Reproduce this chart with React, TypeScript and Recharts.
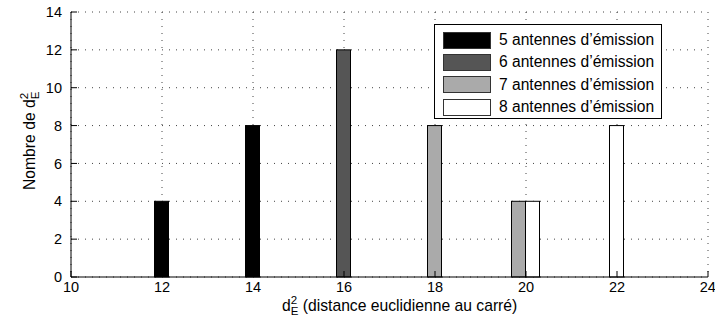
import { BarChart, Bar, XAxis, YAxis, CartesianGrid, Legend } from 'recharts';

// d_E^2 values on the x axis and the counts per number of transmit antennas
const distances = [12, 14, 16, 18, 20, 22];
const tx5 = [4, 8, null, null, null, null];
const tx6 = [null, null, 12, null, null, null];
const tx7 = [null, null, null, 8, 4, null];
const tx8 = [null, null, null, null, 4, 8];
const xTicks = [10, 12, 14, 16, 18, 20, 22, 24];
const yTicks = [0, 2, 4, 6, 8, 10, 12, 14];

const series = [
  { key: 'tx5', name: '5 antennes d’émission', color: '#000000' },
  { key: 'tx6', name: '6 antennes d’émission', color: '#555555' },
  { key: 'tx7', name: '7 antennes d’émission', color: '#aaaaaa' },
  { key: 'tx8', name: '8 antennes d’émission', color: '#ffffff' },
];

const data = distances.map((d, i) => ({
  d,
  tx5: tx5[i],
  tx6: tx6[i],
  tx7: tx7[i],
  tx8: tx8[i],
}));

const FONT = '"Liberation Sans", Arial, Helvetica, sans-serif';
const tickStyle = { fill: '#000', fontSize: 14.5, fontFamily: FONT };
const noLabel = () => '';

// bars sharing the same x are put side by side, single ones stay centred
const makeShape = (key: string, color: string) => (props: any) => {
  const { x, y, width, height, payload } = props;
  if (!height || payload[key] == null) return <g />;
  const present = series.filter((s) => payload[s.key] != null).map((s) => s.key);
  const i = present.indexOf(key);
  const shift = (i - (present.length - 1) / 2) * width;
  return <rect x={x + shift} y={y} width={width} height={height} fill={color} stroke="#000" strokeWidth={1} />;
};

const XLabel = () => (
  <text x={282} y={311} fontFamily={FONT} fontSize={15.7} fill="#000">
    d
    <tspan fontSize={11.5} dy={-7}>2</tspan>
    <tspan fontSize={11.5} dx={-6.4} dy={11}>E</tspan>
    <tspan dy={-4}> (distance euclidienne au carré)</tspan>
  </text>
);

const YLabel = () => (
  <text x={35} y={190} transform="rotate(-90 35 190)" fontFamily={FONT} fontSize={15.7} fill="#000">
    Nombre de d
    <tspan fontSize={11.5} dy={-7}>2</tspan>
    <tspan fontSize={11.5} dx={-6.4} dy={11}>E</tspan>
  </text>
);

const LegendBox = () => (
  <div
    style={{
      boxSizing: 'border-box',
      width: 228,
      height: 95,
      border: '1px solid #000',
      background: '#fff',
      padding: '4px 0 0 8px',
      fontFamily: FONT,
      fontSize: 15.6,
      color: '#000',
    }}
  >
    {series.map((s) => (
      <div key={s.key} style={{ display: 'flex', alignItems: 'center', height: 22.3 }}>
        <span
          style={{
            boxSizing: 'border-box',
            width: 48,
            height: 17,
            background: s.color,
            border: '1px solid #333',
            marginRight: 8,
          }}
        />
        {s.name}
      </div>
    ))}
  </div>
);

export default function App() {
  return (
    <div style={{ position: 'absolute', left: 0, top: 0, background: '#fff' }}>
      <BarChart width={715} height={325} data={data} margin={{ top: 12, right: 7, left: 0, bottom: 0 }}>
        <CartesianGrid xAxisId="bottom" stroke="#444" strokeDasharray="1 6" />
        <XAxis
          xAxisId="bottom"
          type="number"
          dataKey="d"
          domain={[10, 24]}
          ticks={xTicks}
          height={48}
          stroke="#000"
          tickSize={-6}
          tickMargin={11}
          tick={tickStyle}
          label={<XLabel />}
        />
        <XAxis
          xAxisId="top"
          orientation="top"
          type="number"
          dataKey="d"
          domain={[10, 24]}
          ticks={xTicks}
          height={0}
          stroke="#000"
          tickSize={-6}
          tickFormatter={noLabel}
        />
        {series.map((s) => (
          <XAxis key={s.key} xAxisId={s.key} type="number" dataKey="d" domain={[10, 24]} hide />
        ))}
        <YAxis
          type="number"
          domain={[0, 14]}
          ticks={yTicks}
          width={71}
          stroke="#000"
          tickSize={-6}
          tickMargin={15}
          tick={tickStyle}
          label={<YLabel />}
        />
        <YAxis
          yAxisId="right"
          orientation="right"
          type="number"
          domain={[0, 14]}
          ticks={yTicks}
          width={0}
          stroke="#000"
          tickSize={-6}
          tickFormatter={noLabel}
        />
        <Legend
          layout="vertical"
          align="center"
          verticalAlign="middle"
          wrapperStyle={{ left: 434, top: 24, width: 228 }}
          content={<LegendBox />}
        />
        {series.map((s) => (
          <Bar
            key={s.key}
            xAxisId={s.key}
            dataKey={s.key}
            name={s.name}
            fill={s.color}
            barSize={14}
            shape={makeShape(s.key, s.color)}
            isAnimationActive={false}
          />
        ))}
      </BarChart>
    </div>
  );
}
